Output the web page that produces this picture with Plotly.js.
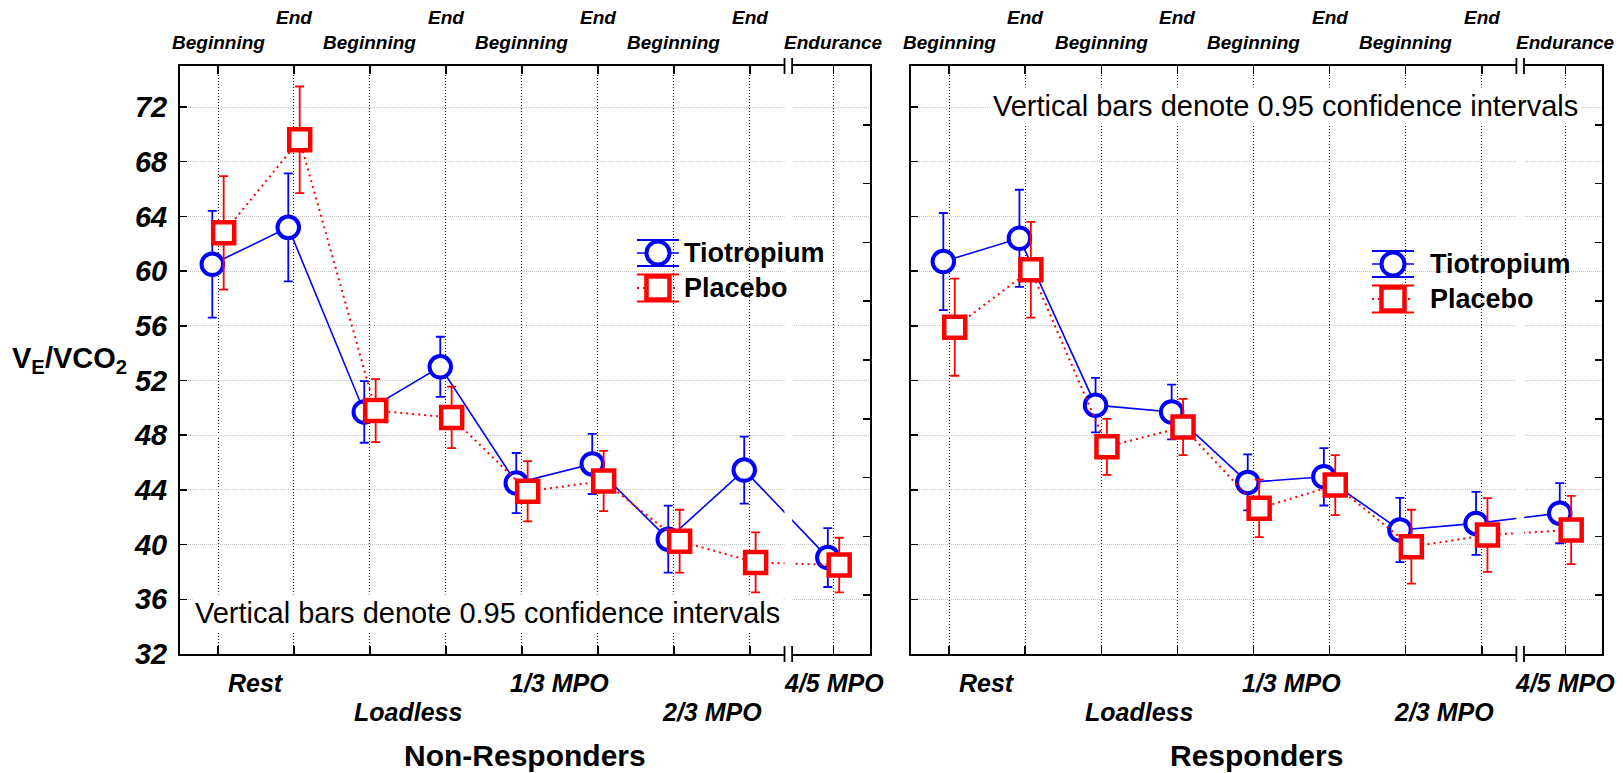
<!DOCTYPE html>
<html>
<head>
<meta charset="utf-8">
<script src="https://cdn.plot.ly/plotly-3.0.1.min.js"></script>
<style>
  html, body { margin: 0; padding: 0; background: #fff; }
  #chart { width: 1623px; height: 773px; }
</style>
</head>
<body>
<div id="chart"></div>
<script>
// Exercise stages (x positions of the measurement points)
const stagePos = [0, 1, 2, 3, 4, 5, 6, 7, 8.1];
const stageLabels = ['Beginning', 'End', 'Beginning', 'End', 'Beginning', 'End', 'Beginning', 'End', 'Endurance'];
const loadLabels = ['Rest', 'Loadless', '1/3 MPO', '2/3 MPO', '4/5 MPO'];
const loadPos = [0.5, 2.5, 4.5, 6.5, 8.1];
const yTicks = [32, 36, 40, 44, 48, 52, 56, 60, 64, 68, 72];
const panelTitles = ['Non-Responders', 'Responders'];
const seriesNames = ['Tiotropium', 'Placebo'];
const ciNote = 'Vertical bars denote 0.95 confidence intervals';

// VE/VCO2 means and 0.95 CI half-widths
const nonRespTio   = [60.5, 63.2, 49.7, 53.0, 44.5, 45.9, 40.4, 45.45, 39.05];
const nonRespTioCI = [3.9, 3.95, 2.25, 2.2, 2.2, 2.2, 2.45, 2.45, 2.15];
const nonRespPla   = [62.8, 69.6, 49.8, 49.3, 43.9, 44.65, 40.25, 38.7, 38.5];
const nonRespPlaCI = [4.15, 3.9, 2.3, 2.25, 2.2, 2.2, 2.3, 2.2, 2.0];
const respTio      = [60.7, 62.4, 50.2, 49.7, 44.55, 44.96, 41.07, 41.55, 42.3];
const respTioCI    = [3.55, 3.55, 2.0, 2.0, 2.05, 2.1, 2.35, 2.3, 2.2];
const respPla      = [55.9, 60.1, 47.15, 48.6, 42.65, 44.35, 39.85, 40.7, 41.07];
const respPlaCI    = [3.55, 3.5, 2.05, 2.05, 2.1, 2.2, 2.7, 2.7, 2.5];

const W = 1623, H = 773;
const FONT = 'Liberation Sans, Arial, Helvetica, sans-serif';
const BLUE = '#0000ff', RED = '#ff0000';
const DODGE = 0.075;
const BREAK_AT = 7.505, BREAK_HALF = 0.05;

const px = x => x / W;
const py = y => 1 - y / H;

function series(vals, ci, name, color, isPlacebo, xa, ya) {
  const shift = isPlacebo ? DODGE : -DODGE;
  return {
    type: 'scatter', mode: 'lines+markers', name: name,
    x: stagePos.map(p => p + shift), y: vals,
    xaxis: xa, yaxis: ya, showlegend: false, hoverinfo: 'skip',
    line: { color: color, width: isPlacebo ? 2 : 1.6, dash: isPlacebo ? '2px,4px' : 'solid' },
    marker: {
      symbol: isPlacebo ? 'square' : 'circle',
      size: isPlacebo ? 21 : 21.5,
      color: '#ffffff',
      line: { color: color, width: isPlacebo ? 4.5 : 4 }
    },
    error_y: { type: 'data', array: ci, visible: true, color: color, thickness: 1.8, width: 4.5 }
  };
}

const data = [
  series(nonRespTio, nonRespTioCI, seriesNames[0], BLUE, false, 'x', 'y'),
  series(nonRespPla, nonRespPlaCI, seriesNames[1], RED, true, 'x', 'y'),
  series(respTio, respTioCI, seriesNames[0], BLUE, false, 'x2', 'y2'),
  series(respPla, respPlaCI, seriesNames[1], RED, true, 'x2', 'y2'),
  // carriers for the right-hand tick frames
  { type: 'scatter', x: [null], y: [null], xaxis: 'x', yaxis: 'y3', showlegend: false, hoverinfo: 'skip' },
  { type: 'scatter', x: [null], y: [null], xaxis: 'x2', yaxis: 'y4', showlegend: false, hoverinfo: 'skip' }
];

const yDom = [py(654), py(66)];
const xDomL = [px(180), px(870)];
const xDomR = [px(911), px(1602)];

function xAxis(domain, anchor) {
  return {
    domain: domain, anchor: anchor, range: [-0.5, 8.58],
    tickmode: 'array', tickvals: stagePos, showticklabels: false,
    ticks: 'inside', ticklen: 8, tickwidth: 1.5, tickcolor: '#000',
    showline: true, linewidth: 2, linecolor: '#000', mirror: 'ticks',
    showgrid: true, gridcolor: '#000', gridwidth: 1, griddash: '1px,2px',
    zeroline: false, fixedrange: true
  };
}
function yAxis(anchor, labels) {
  return {
    domain: yDom, anchor: anchor, range: [32, 75],
    tickmode: 'array', tickvals: yTicks, showticklabels: labels,
    tickfont: { family: FONT, size: 29, color: '#000', weight: 'bold', style: 'italic' },
    ticklabelstandoff: 5,
    ticks: 'inside', ticklen: 7, tickwidth: 1.5, tickcolor: '#000',
    showline: true, linewidth: 2, linecolor: '#000', mirror: false,
    showgrid: true, gridcolor: '#c4c4c4', gridwidth: 1, griddash: '1px,1px',
    zeroline: false, fixedrange: true
  };
}
function frameAxis(over, anchor) {
  return {
    overlaying: over, anchor: anchor, side: 'right', range: [0, 10],
    tickmode: 'array', tickvals: [1, 2, 3, 4, 5, 6, 7, 8, 9], showticklabels: false,
    ticks: 'inside', ticklen: 7, tickwidth: 1.5, tickcolor: '#000',
    showline: true, linewidth: 2, linecolor: '#000',
    showgrid: false, zeroline: false, fixedrange: true
  };
}

const shapes = [];
const annotations = [];

// axis break between the last graded stage and the endurance stage
['x', 'x2'].forEach((xa, i) => {
  const yr = i === 0 ? 'y domain' : 'y2 domain';
  shapes.push({ type: 'rect', layer: 'above', xref: xa, yref: yr,
    x0: BREAK_AT - BREAK_HALF, x1: BREAK_AT + BREAK_HALF, y0: -0.012, y1: 1.012,
    fillcolor: '#ffffff', line: { width: 0 } });
  [BREAK_AT - BREAK_HALF, BREAK_AT + BREAK_HALF].forEach(xb => {
    [0, 1].forEach(anchorY => {
      shapes.push({ type: 'line', layer: 'above', xref: xa, yref: yr,
        ysizemode: 'pixel', yanchor: anchorY, x0: xb, x1: xb, y0: -8, y1: 8,
        line: { color: '#000', width: 1.8 } });
    });
  });
});

// legend blocks
function legendBlock(symX, textX, rowY1, rowY2, box) {
  shapes.push({ type: 'rect', layer: 'between', xref: 'paper', yref: 'paper',
    x0: px(box[0]), x1: px(box[1]), y0: py(box[3]), y1: py(box[2]),
    fillcolor: '#ffffff', line: { width: 0 } });
  const half = 21;
  // Tiotropium symbol: circle with cap lines
  [rowY1 - 13, rowY1 + 13].forEach(yy => shapes.push({ type: 'line', layer: 'above', xref: 'paper', yref: 'paper',
    x0: px(symX - half), x1: px(symX + half), y0: py(yy), y1: py(yy), line: { color: BLUE, width: 2 } }));
  shapes.push({ type: 'line', layer: 'above', xref: 'paper', yref: 'paper',
    x0: px(symX - half), x1: px(symX + half), y0: py(rowY1), y1: py(rowY1), line: { color: BLUE, width: 1.6 } });
  shapes.push({ type: 'circle', layer: 'above', xref: 'paper', yref: 'paper',
    x0: px(symX - 11.5), x1: px(symX + 11.5), y0: py(rowY1 + 11.5), y1: py(rowY1 - 11.5),
    fillcolor: '#ffffff', line: { color: BLUE, width: 4 } });
  // Placebo symbol: square with cap lines
  [rowY2 - 13.5, rowY2 + 13.5].forEach(yy => shapes.push({ type: 'line', layer: 'above', xref: 'paper', yref: 'paper',
    x0: px(symX - half), x1: px(symX + half), y0: py(yy), y1: py(yy), line: { color: RED, width: 2 } }));
  shapes.push({ type: 'line', layer: 'above', xref: 'paper', yref: 'paper',
    x0: px(symX - half), x1: px(symX + half), y0: py(rowY2), y1: py(rowY2), line: { color: RED, width: 2, dash: '2px,4px' } });
  shapes.push({ type: 'rect', layer: 'above', xref: 'paper', yref: 'paper',
    x0: px(symX - 11.5), x1: px(symX + 11.5), y0: py(rowY2 + 11.5), y1: py(rowY2 - 11.5),
    fillcolor: '#ffffff', line: { color: RED, width: 4.5 } });
  [[seriesNames[0], rowY1], [seriesNames[1], rowY2]].forEach(([t, yy]) => annotations.push({
    text: t, xref: 'paper', yref: 'paper', x: px(textX), y: py(yy), xanchor: 'left', yanchor: 'middle',
    showarrow: false, font: { family: FONT, size: 27, color: '#000', weight: 'bold' } }));
}
legendBlock(658, 682, 253, 288, [625, 852, 230, 310]);
legendBlock(1393, 1428, 264, 299, [1358, 1592, 240, 320]);

// stage labels above, load labels below, panel titles
['x', 'x2'].forEach((xa, p) => {
  stagePos.forEach((pos, i) => annotations.push({
    text: stageLabels[i], xref: xa, yref: 'paper', x: pos, y: py(stageLabels[i] === 'End' ? 18 : 43),
    xanchor: 'center', yanchor: 'middle', showarrow: false,
    font: { family: FONT, size: 19, color: '#000', weight: 'bold', style: 'italic' } }));
  loadPos.forEach((pos, i) => annotations.push({
    text: loadLabels[i], xref: xa, yref: 'paper', x: pos, y: py(i % 2 === 0 ? 683 : 712),
    xanchor: 'center', yanchor: 'middle', showarrow: false,
    font: { family: FONT, size: 25, color: '#000', weight: 'bold', style: 'italic' } }));
  annotations.push({
    text: panelTitles[p], xref: 'paper', yref: 'paper',
    x: p === 0 ? (xDomL[0] + xDomL[1]) / 2 : (xDomR[0] + xDomR[1]) / 2, y: py(755),
    xanchor: 'center', yanchor: 'middle', showarrow: false,
    font: { family: FONT, size: 30, color: '#000', weight: 'bold' } });
});

// confidence-interval notes
annotations.push({ text: ciNote, xref: 'paper', yref: 'paper', x: px(192), y: py(613),
  xanchor: 'left', yanchor: 'middle', showarrow: false, bgcolor: '#ffffff', borderpad: 2,
  font: { family: FONT, size: 29, color: '#000' } });
annotations.push({ text: ciNote, xref: 'paper', yref: 'paper', x: px(990), y: py(106),
  xanchor: 'left', yanchor: 'middle', showarrow: false, bgcolor: '#ffffff', borderpad: 2,
  font: { family: FONT, size: 29, color: '#000' } });

// y-axis title
annotations.push({ text: 'V<sub>E</sub>/VCO<sub>2</sub>', xref: 'paper', yref: 'paper', x: px(69), y: py(360),
  xanchor: 'center', yanchor: 'middle', showarrow: false,
  font: { family: FONT, size: 29, color: '#000', weight: 'bold' } });

const layout = {
  width: W, height: H,
  margin: { l: 0, r: 0, t: 0, b: 0 },
  paper_bgcolor: '#ffffff', plot_bgcolor: '#ffffff',
  showlegend: false,
  xaxis: xAxis(xDomL, 'y'),
  xaxis2: xAxis(xDomR, 'y2'),
  yaxis: yAxis('x', true),
  yaxis2: yAxis('x2', false),
  yaxis3: frameAxis('y', 'x'),
  yaxis4: frameAxis('y2', 'x2'),
  shapes: shapes,
  annotations: annotations
};

Plotly.newPlot('chart', data, layout, { staticPlot: true, displayModeBar: false });
</script>
</body>
</html>
